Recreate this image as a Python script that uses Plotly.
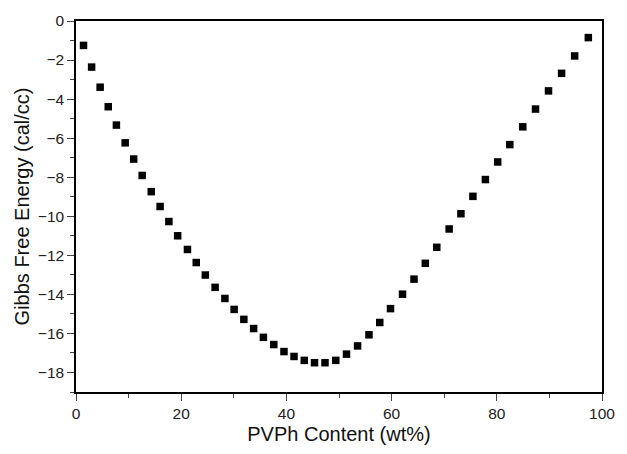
import plotly.graph_objects as go

pvph_wt = [1.43, 2.97, 4.59, 6.13, 7.68, 9.35, 10.97, 12.58, 14.31, 15.99,
           17.66, 19.33, 21.19, 22.86, 24.59, 26.45, 28.31, 30.06, 31.91, 33.77,
           35.63, 37.6, 39.54, 41.45, 43.4, 45.35, 47.34, 49.39, 51.43, 53.53,
           55.70, 57.75, 59.79, 62.08, 64.26, 66.41, 68.59, 70.94, 73.18, 75.46,
           77.83, 80.17, 82.47, 84.94, 87.36, 89.83, 92.32, 94.8, 97.4]
gibbs = [-1.25, -2.36, -3.39, -4.39, -5.33, -6.24, -7.07, -7.91, -8.74, -9.50,
         -10.27, -11.00, -11.70, -12.37, -13.01, -13.64, -14.21, -14.77, -15.28, -15.75,
         -16.20, -16.57, -16.93, -17.18, -17.38, -17.50, -17.50, -17.38, -17.06, -16.64,
         -16.07, -15.44, -14.73, -13.99, -13.22, -12.41, -11.59, -10.65, -9.87, -8.98,
         -8.12, -7.22, -6.33, -5.42, -4.51, -3.58, -2.68, -1.79, -0.85]

x_ticks = [0, 20, 40, 60, 80, 100]
y_ticks = [0, -2, -4, -6, -8, -10, -12, -14, -16, -18]

fig = go.Figure()
fig.add_trace(go.Scatter(
    x=pvph_wt, y=gibbs, mode="markers",
    marker=dict(symbol="square", size=7.5, color="black", line=dict(width=0)),
    showlegend=False,
))

font = "Liberation Sans, Arial, sans-serif"
fig.update_layout(
    width=627, height=454,
    margin=dict(l=76, r=13, t=20, b=59),
    paper_bgcolor="white", plot_bgcolor="white",
    font=dict(family=font, color="black", size=15),
)
fig.update_xaxes(
    range=[0, 100], tickvals=x_ticks, ticks="outside", ticklen=7, tickwidth=1.2,
    minor=dict(dtick=10, ticks="outside", ticklen=4, tickwidth=1.2, showgrid=False),
    showline=True, linewidth=1.5, linecolor="black", mirror=True, showgrid=False,
    zeroline=False, tickfont=dict(size=15.5, color="#222"),
    title=dict(text="PVPh Content (wt%)", font=dict(size=20, color="#111"), standoff=6),
)
fig.update_yaxes(
    range=[-19, 0], tickvals=y_ticks, ticks="outside", ticklen=7, tickwidth=1.2,
    minor=dict(dtick=1, ticks="outside", ticklen=4, tickwidth=1.2, showgrid=False),
    showline=True, linewidth=1.5, linecolor="black", mirror=True, showgrid=False,
    zeroline=False, tickfont=dict(size=15.5, color="#222"),
    title=dict(text="Gibbs Free Energy (cal/cc)", font=dict(size=20, color="#111"), standoff=3),
)
fig.write_html("out.html")
